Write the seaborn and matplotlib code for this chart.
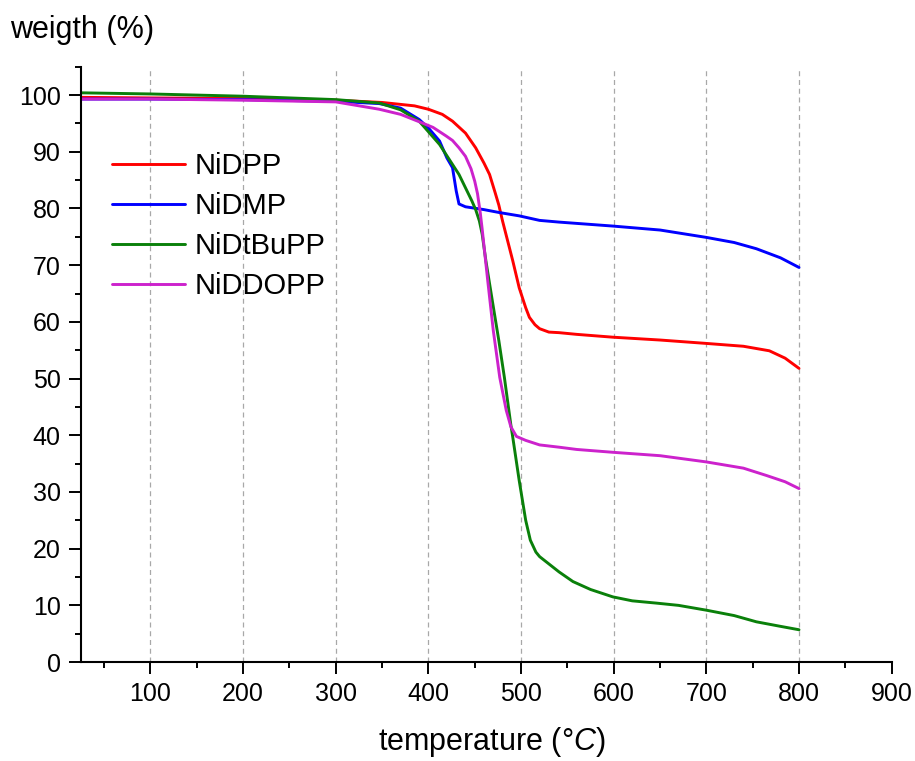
import matplotlib
matplotlib.use("Agg")
import matplotlib.pyplot as plt
from matplotlib.ticker import MultipleLocator
import pandas as pd
import seaborn as sns

# temperature (°C) / weight (%)
t_dpp = [25, 100, 200, 300, 350, 385, 400, 415, 426, 440, 451, 460, 466, 472, 476, 480,
         491, 498, 505, 509, 515, 520, 530, 541, 560, 599, 650, 700, 740, 768, 785, 800]
w_dpp = [99.6, 99.5, 99.4, 99.1, 98.7, 98.1, 97.5, 96.6, 95.4, 93.3, 90.7, 88.0, 86.0, 82.8, 80.6, 77.8,
         70.8, 66.0, 62.5, 60.8, 59.5, 58.8, 58.2, 58.1, 57.8, 57.3, 56.8, 56.2, 55.7, 54.9, 53.6, 51.8]

t_dmp = [25, 100, 200, 300, 347, 370, 390, 400, 412, 420, 426, 430, 433, 440, 460,
         476, 498, 520, 541, 599, 650, 700, 730, 754, 780, 800]
w_dmp = [99.3, 99.3, 99.2, 98.9, 98.5, 97.7, 95.7, 94.2, 91.9, 88.9, 87.2, 83.1, 80.8, 80.3, 79.8,
         79.3, 78.7, 77.9, 77.6, 76.9, 76.2, 74.9, 74.0, 72.9, 71.3, 69.6]

t_tbu = [25, 100, 200, 300, 347, 370, 390, 412, 433, 447, 451, 455, 458, 462, 469, 476, 482,
         489, 491, 498, 505, 510, 516, 520, 541, 556, 575, 599, 620, 646, 670, 700, 730, 754, 780, 800]
w_tbu = [100.4, 100.2, 99.8, 99.2, 98.6, 97.4, 95.4, 91.3, 86.0, 81.3, 79.8, 77.8, 75.5, 70.8, 63.7, 56.7, 50.2,
         41.8, 39.7, 32.0, 25.0, 21.5, 19.4, 18.6, 15.9, 14.2, 12.8, 11.5, 10.8, 10.4, 10.0, 9.15, 8.2, 7.1, 6.3, 5.7]

t_ddo = [25, 100, 200, 300, 347, 370, 390, 405, 419, 426, 433, 440, 446, 450, 453, 456, 458, 464,
         470, 477, 484, 489, 495, 505, 520, 541, 560, 599, 650, 700, 740, 765, 785, 800]
w_ddo = [99.3, 99.3, 99.1, 98.8, 97.5, 96.6, 95.3, 94.3, 92.8, 92.0, 90.7, 89.2, 87.0, 84.8, 82.6, 79.2, 76.4, 67.3,
         58.5, 50.2, 44.4, 41.5, 39.8, 39.1, 38.3, 37.9, 37.5, 37.0, 36.4, 35.3, 34.2, 32.9, 31.8, 30.6]

names = ["NiDPP", "NiDMP", "NiDtBuPP", "NiDDOPP"]
colors = {"NiDPP": "#ff0000", "NiDMP": "#0000ff", "NiDtBuPP": "#0a800a", "NiDDOPP": "#cc22cc"}

df = pd.concat([
    pd.DataFrame({"temperature": t, "weight": w, "sample": n})
    for t, w, n in zip([t_dpp, t_dmp, t_tbu, t_ddo], [w_dpp, w_dmp, w_tbu, w_ddo], names)
])

sns.set_style("ticks")
plt.rcParams["font.family"] = ["Liberation Sans", "DejaVu Sans"]
plt.rcParams["mathtext.fontset"] = "custom"
plt.rcParams["mathtext.rm"] = "Liberation Sans"
plt.rcParams["mathtext.it"] = "Liberation Sans:italic"
plt.rcParams["text.color"] = "black"
plt.rcParams["axes.labelcolor"] = "black"
plt.rcParams["xtick.color"] = "black"
plt.rcParams["ytick.color"] = "black"

fig, ax = plt.subplots(figsize=(9.15, 7.61), dpi=100)
fig.subplots_adjust(left=0.0885, right=0.9745, bottom=0.130, top=0.9123)

sns.lineplot(data=df, x="temperature", y="weight", hue="sample", hue_order=names,
             palette=colors, estimator=None, linewidth=2.1, ax=ax)

ax.set_xlim(25, 900)
ax.set_ylim(0, 105)
ax.xaxis.set_major_locator(MultipleLocator(100))
ax.xaxis.set_minor_locator(MultipleLocator(50))
ax.yaxis.set_major_locator(MultipleLocator(10))
ax.yaxis.set_minor_locator(MultipleLocator(5))
ax.set_xticks(range(100, 1000, 100))

ax.tick_params(which="major", direction="out", length=8.5, width=1.4, labelsize=18, colors="black", pad=6)
ax.tick_params(which="minor", direction="out", length=4.5, width=1.4, colors="black")

sns.despine(ax=ax)
for s in ["left", "bottom"]:
    ax.spines[s].set_linewidth(1.5)
    ax.spines[s].set_color("black")

ax.grid(axis="x", which="major", linestyle=(0, (4, 3)), color="#a8a8a8", linewidth=0.9)
ax.get_xgridlines()[-1].set_visible(False)

ax.set_xlabel("temperature (°$\\mathit{C}$)", fontsize=22, va="center")
ax.xaxis.set_label_coords(0.507, -0.134)
ax.set_ylabel("weigth (%)", fontsize=22, rotation=0, ha="left", va="center")
ax.yaxis.set_label_coords(-0.0876, 1.062)

leg = ax.legend(loc="upper left", bbox_to_anchor=(0.038, 0.857), frameon=False, fontsize=21,
                handlelength=2.5, handletextpad=0.35, labelspacing=0.41, borderpad=0, borderaxespad=0)
for line in leg.get_lines():
    line.set_linewidth(2.1)

fig.savefig("out.png", dpi=100)
